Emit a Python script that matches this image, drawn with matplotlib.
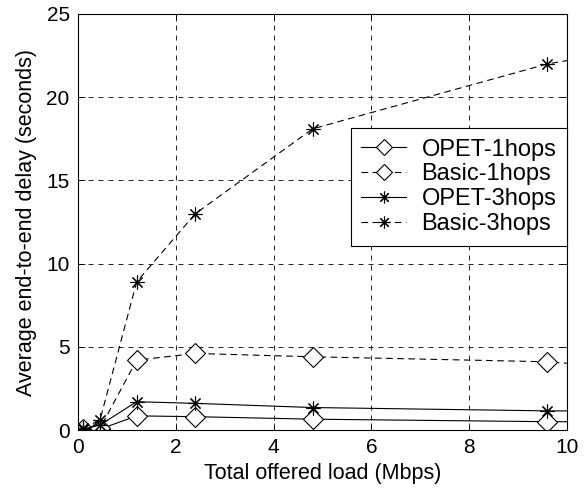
import matplotlib
matplotlib.use("Agg")
import matplotlib.pyplot as plt

plt.rcParams['font.family'] = ['Liberation Sans', 'DejaVu Sans']

load = [0.1, 0.45, 1.2, 2.4, 4.8, 9.6, 19.2]
opet_1hops = [0.02, 0.05, 0.85, 0.8, 0.65, 0.5, 0.45]
basic_1hops = [0.05, 0.1, 4.2, 4.6, 4.4, 4.1, 2.0]
opet_3hops = [0.05, 0.3, 1.7, 1.6, 1.35, 1.15, 1.1]
basic_3hops = [0.1, 0.6, 8.9, 13.0, 18.1, 22.0, 26.8]

labels = ['OPET-1hops', 'Basic-1hops', 'OPET-3hops', 'Basic-3hops']
xticks = [0, 2, 4, 6, 8, 10]
yticks = [0, 5, 10, 15, 20, 25]

fig = plt.figure(figsize=(5.87, 4.9), dpi=100)
ax = fig.add_axes([78/587, 1-430/490, (567-78)/587, (430-14)/490])

star = (8, 2, 0)
common = dict(color='black', linewidth=0.8, markerfacecolor='white', markeredgecolor='black', markeredgewidth=0.8)
ax.plot(load, opet_1hops, linestyle='-', marker='D', markersize=10, label=labels[0], **common)
ax.plot(load, basic_1hops, linestyle=(0, (6, 4)), marker='D', markersize=10, label=labels[1], **common)
ax.plot(load, opet_3hops, linestyle='-', marker=star, markersize=10, label=labels[2], **common)
ax.plot(load, basic_3hops, linestyle=(0, (6, 4)), marker=star, markersize=10, label=labels[3], **common)

ax.set_xlim(0, 10)
ax.set_ylim(0, 25)
ax.set_xticks(xticks)
ax.set_yticks(yticks)
ax.grid(True, color='black', linestyle=(0, (6, 6)), linewidth=0.6)
ax.tick_params(direction='in', top=True, right=True, labelsize=15, length=5, width=0.6, pad=6)
for s in ax.spines.values():
    s.set_linewidth(0.8)

ax.set_xlabel('Total offered load (Mbps)', fontsize=15.5, labelpad=4)
ax.set_ylabel('Average end-to-end delay (seconds)', fontsize=15.5, labelpad=7)

leg = ax.legend(loc='upper right', bbox_to_anchor=(1.0, (430-128)/416), fontsize=17,
                fancybox=False, edgecolor='black', framealpha=1, borderaxespad=0,
                handlelength=1.9, handletextpad=0.65, labelspacing=0.12, borderpad=0.45,
                markerscale=0.85)
leg.get_frame().set_linewidth(0.8)

fig.savefig('out.png', dpi=100)
